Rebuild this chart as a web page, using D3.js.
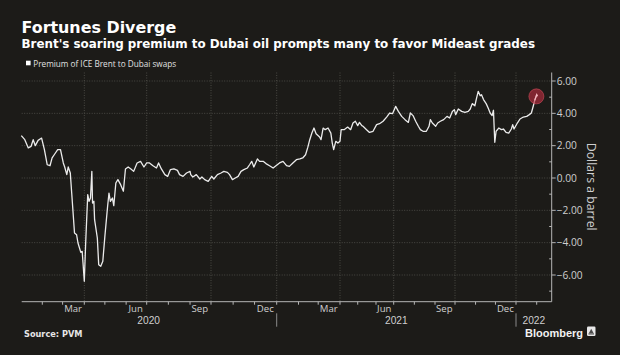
<!DOCTYPE html>
<html>
<head>
<meta charset="utf-8">
<script src="https://cdn.jsdelivr.net/npm/d3@7"></script>
<style>
  html, body { margin: 0; padding: 0; background: #1c1b18; }
  svg { display: block; }
</style>
</head>
<body>
<svg id="chart" width="620" height="355"></svg>
<script>
// ---------------- DATA ----------------
const title = "Fortunes Diverge";
const subtitle = "Brent's soaring premium to Dubai oil prompts many to favor Mideast grades";
const seriesName = "Premium of ICE Brent to Dubai swaps";
const yAxisTitle = "Dollars a barrel";
const sourceText = "Source: PVM";

const dates = [
  "2020-01-02","2020-01-07","2020-01-12","2020-01-16","2020-01-19","2020-01-22","2020-01-26","2020-01-31",
  "2020-02-04","2020-02-08","2020-02-12","2020-02-15","2020-02-19","2020-02-23","2020-02-27",
  "2020-03-02","2020-03-04","2020-03-07","2020-03-09","2020-03-12","2020-03-14","2020-03-18","2020-03-21",
  "2020-03-23","2020-03-27","2020-03-29","2020-04-01","2020-04-03","2020-04-06","2020-04-08","2020-04-10",
  "2020-04-12","2020-04-13","2020-04-15","2020-04-16","2020-04-20","2020-04-22","2020-04-25","2020-04-28",
  "2020-05-01","2020-05-05","2020-05-07","2020-05-09","2020-05-12","2020-05-14","2020-05-17","2020-05-20",
  "2020-05-24","2020-05-28","2020-05-31","2020-06-04","2020-06-08","2020-06-12","2020-06-17","2020-06-22",
  "2020-06-27","2020-07-01","2020-07-05","2020-07-10","2020-07-15","2020-07-18","2020-07-22","2020-07-27",
  "2020-07-31","2020-08-04","2020-08-09","2020-08-14","2020-08-17","2020-08-22","2020-08-27","2020-09-01",
  "2020-09-02","2020-09-05","2020-09-10","2020-09-15","2020-09-18","2020-09-22","2020-09-27","2020-10-02",
  "2020-10-05","2020-10-10","2020-10-15","2020-10-19","2020-10-24","2020-10-27","2020-10-31","2020-11-04",
  "2020-11-08","2020-11-12","2020-11-16","2020-11-21","2020-11-24","2020-11-27","2020-11-30","2020-12-05",
  "2020-12-08","2020-12-13","2020-12-17","2020-12-22","2020-12-27","2020-12-31","2021-01-05","2021-01-10",
  "2021-01-15","2021-01-19","2021-01-24","2021-01-29","2021-02-03","2021-02-07","2021-02-11","2021-02-14",
  "2021-02-17","2021-02-20","2021-02-23","2021-02-26","2021-03-03","2021-03-05","2021-03-08","2021-03-11",
  "2021-03-15","2021-03-19","2021-03-21","2021-03-23","2021-03-26","2021-03-29","2021-04-01","2021-04-03",
  "2021-04-08","2021-04-14","2021-04-19","2021-04-23","2021-04-27","2021-05-01","2021-05-04","2021-05-08",
  "2021-05-10","2021-05-16","2021-05-21","2021-05-27","2021-06-02","2021-06-07","2021-06-13","2021-06-19",
  "2021-06-24","2021-06-29","2021-07-04","2021-07-08","2021-07-13","2021-07-18","2021-07-23","2021-07-26",
  "2021-07-30","2021-08-03","2021-08-07","2021-08-10","2021-08-14","2021-08-19","2021-08-23","2021-08-25",
  "2021-08-28","2021-09-02","2021-09-05","2021-09-09","2021-09-14","2021-09-19","2021-09-23","2021-09-27",
  "2021-09-30","2021-10-02","2021-10-06","2021-10-11","2021-10-16","2021-10-21","2021-10-24","2021-10-27",
  "2021-10-31","2021-11-02","2021-11-05","2021-11-08","2021-11-10","2021-11-13","2021-11-17","2021-11-20",
  "2021-11-23","2021-11-26","2021-11-28","2021-11-30","2021-12-02","2021-12-06","2021-12-10","2021-12-13",
  "2021-12-17","2021-12-21","2021-12-25","2021-12-27","2021-12-29","2022-01-03","2022-01-07","2022-01-12",
  "2022-01-17","2022-01-21","2022-01-24","2022-01-27","2022-01-29","2022-02-01","2022-02-02"
];
const premium = [
  2.62,2.37,1.86,1.96,2.37,2.00,2.33,2.47,
  1.75,0.82,0.76,1.24,1.50,1.75,1.75,
  0.93,0.68,0.21,0.68,0.31,-0.93,-3.40,-3.51,
  -4.02,-4.60,-4.54,-6.39,-4.02,-1.03,-1.44,-1.24,
  0.41,-1.55,-1.44,-2.58,-3.71,-5.36,-5.46,-5.15,
  -3.61,-1.75,-0.93,-1.44,-1.24,-1.71,-0.31,-0.10,
  -0.41,-0.82,0.56,0.68,0.56,0.41,0.93,1.03,
  0.68,0.93,0.93,0.76,0.62,0.93,0.56,0.21,
  0.10,0.52,0.56,0.47,0.21,0.10,0.31,0.41,
  0.21,0.06,0.21,-0.06,0.06,-0.10,-0.21,0.10,
  -0.06,0.21,0.31,0.41,0.35,0.21,-0.10,0.00,
  0.10,0.41,0.52,0.62,0.82,1.03,0.68,1.18,
  1.03,1.03,0.89,0.76,0.62,0.76,0.93,1.03,
  0.76,0.72,0.93,1.13,1.18,1.24,1.44,1.86,
  2.37,2.78,3.09,2.74,2.54,2.37,3.09,2.99,
  3.09,2.78,2.16,1.75,2.27,2.16,2.27,2.99,
  2.99,3.15,2.99,3.40,3.51,3.24,3.44,3.24,
  3.20,2.99,2.82,2.89,3.30,3.36,3.51,3.77,
  4.02,3.98,4.43,4.12,3.81,3.61,3.44,4.02,
  3.86,3.51,3.20,2.99,2.89,2.89,3.20,3.61,
  3.40,3.20,3.40,3.51,3.61,3.81,3.71,4.12,
  4.23,3.92,4.27,4.12,4.06,4.12,4.27,4.60,
  4.47,4.85,5.36,5.09,5.15,4.85,4.60,4.33,
  4.02,3.86,4.19,2.21,2.89,3.09,2.99,3.03,
  2.82,2.78,3.03,3.30,3.03,3.40,3.65,3.77,
  3.81,3.92,4.02,4.47,4.80,5.15,5.05
];

const yTickValues = [-6, -4, -2, 0, 2, 4, 6];
const yMinorValues = [-7, -5, -3, -1, 1, 3, 5];
const monthLabels = [
  {date: "2020-03-16", label: "Mar"}, {date: "2020-06-15", label: "Jun"},
  {date: "2020-09-15", label: "Sep"}, {date: "2020-12-16", label: "Dec"},
  {date: "2021-03-16", label: "Mar"}, {date: "2021-06-15", label: "Jun"},
  {date: "2021-09-15", label: "Sep"}, {date: "2021-12-16", label: "Dec"}
];
const yearLabels = [
  {start: "2020-01-01", end: "2021-01-01", label: "2020"},
  {start: "2021-01-01", end: "2022-01-01", label: "2021"},
  {start: "2022-01-01", end: "2022-02-23", label: "2022"}
];

// ---------------- LAYOUT ----------------
const W = 620, H = 355;
const plot = {left: 21.7, right: 551.7, top: 72.5, bottom: 301.7};
const parse = d3.utcParse("%Y-%m-%d");

// Piecewise time scale (Bloomberg-style uneven spacing measured on the reference)
const xKnots = ["2020-01-01","2020-04-01","2020-07-01","2020-10-01","2021-01-01",
                "2021-04-01","2021-07-01","2021-10-01","2022-01-01","2022-02-01","2022-02-23"].map(parse);
const xKnotPos = [20.6, 84.3, 146.7, 211, 276.7, 340, 393.7, 455, 516, 536.7, 551.7];
const x = d3.scaleUtc().domain(xKnots).range(xKnotPos);
const y = d3.scaleLinear().domain([-6, 6]).range([275, 81]);

const svg = d3.select("#chart");
svg.append("rect").attr("width", W).attr("height", H).attr("fill", "#1c1b18");

const axisText = "#cfcfcf", gridCol = "#56554f";

// Titles
svg.append("text").attr("x", 21.5).attr("y", 33.3)
  .attr("font-family", "DejaVu Sans").attr("font-weight", "bold").attr("font-size", 15.9)
  .attr("fill", "#ffffff").text(title);
svg.append("text").attr("x", 21.5).attr("y", 47.5)
  .attr("font-family", "DejaVu Sans").attr("font-weight", "bold").attr("font-size", 11.9)
  .attr("fill", "#ffffff").text(subtitle);

// Legend
svg.append("rect").attr("x", 26).attr("y", 60.7).attr("width", 4.6).attr("height", 4.6).attr("fill", "#ffffff");
svg.append("text").attr("x", 33.3).attr("y", 66.7)
  .attr("font-family", "Open Sans").attr("font-size", 8.2).attr("fill", "#e0e0e0").text(seriesName);

// Gridlines
const gridG = svg.append("g");
const quarterStarts = d3.utcMonth.range(parse("2020-04-01"), parse("2022-01-02"), 3);
gridG.selectAll("line.vg").data(quarterStarts).join("line")
  .attr("x1", d => x(d)).attr("x2", d => x(d))
  .attr("y1", plot.top).attr("y2", plot.bottom)
  .attr("stroke", gridCol).attr("stroke-width", 0.8).attr("stroke-dasharray", "1,1.5");
gridG.selectAll("line.hg").data(yTickValues).join("line")
  .attr("x1", plot.left).attr("x2", plot.right)
  .attr("y1", d => y(d)).attr("y2", d => y(d))
  .attr("stroke", gridCol).attr("stroke-width", 0.8).attr("stroke-dasharray", "1,1.5");

// X axis
const axCol = "#b5b5b5";
svg.append("line").attr("x1", plot.left).attr("x2", plot.right)
  .attr("y1", plot.bottom).attr("y2", plot.bottom).attr("stroke", axCol).attr("stroke-width", 1);
const monthStarts = d3.utcMonth.range(parse("2020-02-01"), parse("2022-02-02"));
svg.selectAll("line.mt").data(monthStarts).join("line")
  .attr("x1", d => x(d)).attr("x2", d => x(d))
  .attr("y1", plot.bottom).attr("y2", plot.bottom + 3)
  .attr("stroke", axCol).attr("stroke-width", 1);
svg.selectAll("text.ml").data(monthLabels).join("text")
  .attr("x", d => x(parse(d.date))).attr("y", 312.2)
  .attr("text-anchor", "middle").attr("font-family", "Open Sans").attr("font-size", 9.6)
  .attr("fill", axisText).text(d => d.label);
svg.selectAll("text.yl").data(yearLabels).join("text")
  .attr("x", d => (x(parse(d.start)) + x(parse(d.end))) / 2).attr("y", 324.2)
  .attr("text-anchor", "middle").attr("font-family", "Liberation Sans").attr("font-size", 10.2)
  .attr("fill", axisText).text(d => d.label);
svg.selectAll("line.ysep").data(yearLabels.slice(1)).join("line")
  .attr("x1", d => x(parse(d.start))).attr("x2", d => x(parse(d.start)))
  .attr("y1", 313.3).attr("y2", 326.7).attr("stroke", "#8a8a8a").attr("stroke-width", 1);

// Y axis (right)
svg.append("line").attr("x1", plot.right).attr("x2", plot.right)
  .attr("y1", plot.top).attr("y2", plot.bottom).attr("stroke", axCol).attr("stroke-width", 1);
svg.selectAll("line.yt").data(yTickValues).join("line")
  .attr("x1", plot.right).attr("x2", plot.right + 4)
  .attr("y1", d => y(d)).attr("y2", d => y(d)).attr("stroke", axCol);
svg.selectAll("line.ymt").data(yMinorValues).join("line")
  .attr("x1", plot.right - 2.5).attr("x2", plot.right)
  .attr("y1", d => y(d)).attr("y2", d => y(d)).attr("stroke", axCol);
svg.selectAll("text.ytl").data(yTickValues).join("text")
  .attr("x", plot.right + 5).attr("y", d => y(d) + 3.6)
  .attr("font-family", "Open Sans").attr("font-size", 10.2)
  .attr("fill", axisText).text(d => d3.format(".2f")(d));
svg.append("text")
  .attr("transform", `translate(587,186.7) rotate(90)`)
  .attr("text-anchor", "middle").attr("font-family", "Open Sans").attr("font-size", 12.3)
  .attr("fill", axisText).text(yAxisTitle);

// Line
const series = dates.map((d, i) => ({date: parse(d), value: premium[i]}));
const line = d3.line().x(d => x(d.date)).y(d => y(d.value));
svg.append("path").datum(series).attr("d", line)
  .attr("fill", "none").attr("stroke", "#ebebeb").attr("stroke-width", 1.3)
  .attr("stroke-linejoin", "round");

// Highlight marker on last point
const last = series[series.length - 1];
svg.append("circle").attr("cx", x(last.date) - 1).attr("cy", y(last.value))
  .attr("r", 7.5).attr("fill", "rgba(190,45,65,0.62)")
  .attr("stroke", "rgba(215,80,95,0.55)").attr("stroke-width", 1);
svg.append("path").datum(series.slice(-3)).attr("d", line)
  .attr("fill", "none").attr("stroke", "#f3b9c0").attr("stroke-width", 1.3);

// Footer
svg.append("text").attr("x", 24).attr("y", 336.7)
  .attr("font-family", "DejaVu Sans").attr("font-weight", "bold").attr("font-size", 8.2)
  .attr("fill", "#e6e6e6").text(sourceText);
svg.append("text").attr("x", 525).attr("y", 337)
  .attr("font-family", "Liberation Sans").attr("font-weight", "bold").attr("font-size", 11)
  .attr("fill", "#f2f2f2").text("Bloomberg");
const logo = svg.append("g").attr("transform", "translate(587,326.5)");
logo.append("rect").attr("width", 8.5).attr("height", 9.5).attr("rx", 1.2).attr("fill", "#e8e8e8");
logo.append("path").attr("d", "M2,6.5 L4.2,2.2 L6.5,6.5 Z").attr("fill", "#4a4a4a");
logo.append("rect").attr("x", 1.5).attr("y", 6.8).attr("width", 5.5).attr("height", 1.2).attr("fill", "#4a4a4a");
</script>
</body>
</html>
